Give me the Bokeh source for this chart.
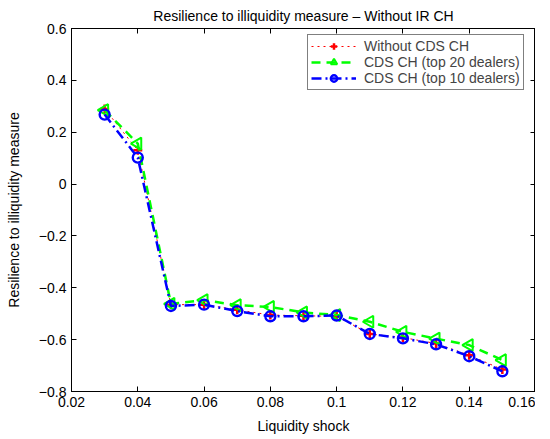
from bokeh.plotting import figure
from bokeh.models import LinearAxis, Legend, LegendItem, FixedTicker, Range1d, Title
from bokeh.embed import file_html
from bokeh.resources import INLINE

x = [0.03, 0.04, 0.05, 0.06, 0.07, 0.08, 0.09, 0.10, 0.11, 0.12, 0.13, 0.14, 0.15]
without_cds = [0.29, 0.13, -0.465, -0.465, -0.485, -0.505, -0.508, -0.51, -0.578, -0.592, -0.615, -0.66, -0.715]
top20 = [0.285, 0.156, -0.462, -0.448, -0.467, -0.474, -0.495, -0.505, -0.531, -0.57, -0.596, -0.621, -0.679]
top10 = [0.268, 0.102, -0.47, -0.465, -0.49, -0.51, -0.51, -0.507, -0.578, -0.595, -0.618, -0.664, -0.722]

xticks = [0.02, 0.04, 0.06, 0.08, 0.1, 0.12, 0.14, 0.16]
yticks = [-0.8, -0.6, -0.4, -0.2, 0, 0.2, 0.4, 0.6]
xlabels = {0.02: "0.02", 0.04: "0.04", 0.06: "0.06", 0.08: "0.08", 0.1: "0.1", 0.12: "0.12", 0.14: "0.14", 0.16: "0.16"}
ylabels = {-0.8: "\u22120.8", -0.6: "\u22120.6", -0.4: "\u22120.4", -0.2: "\u22120.2", 0: "0", 0.2: "0.2", 0.4: "0.4", 0.6: "0.6"}

FONT = "Liberation Sans"
FS = "14px"

p = figure(frame_width=464, frame_height=363, output_backend="svg", toolbar_location=None,
           x_range=Range1d(0.02, 0.16), y_range=Range1d(-0.8, 0.6),
           min_border_left=71, min_border_right=0, min_border_top=0, min_border_bottom=0,
           background_fill_color="white", border_fill_color="white")
p.title = Title(text="Resilience to illiquidity measure \u2013 Without IR CH", align="center",
                text_font=FONT, text_font_size=FS, text_font_style="normal", text_color="black")
p.xgrid.visible = False
p.ygrid.visible = False
p.outline_line_color = "black"
p.outline_line_width = 1

def style_axis(ax, labels=True):
    ax.major_tick_in = 5
    ax.major_tick_out = 0
    ax.minor_tick_in = 0
    ax.minor_tick_out = 0
    ax.axis_line_color = "black"
    ax.major_tick_line_color = "black"
    ax.major_label_text_font = FONT
    ax.major_label_text_font_size = FS
    ax.major_label_text_color = "black"
    ax.major_label_standoff = 5
    ax.axis_label_text_font = FONT
    ax.axis_label_text_font_size = FS
    ax.axis_label_text_font_style = "normal"
    ax.axis_label_text_color = "black"
    if not labels:
        ax.major_label_text_font_size = "0px"
        ax.major_label_text_alpha = 0
        ax.major_label_standoff = 0

xa = p.xaxis[0]
ya = p.yaxis[0]
xa.ticker = FixedTicker(ticks=xticks)
ya.ticker = FixedTicker(ticks=yticks)
xa.major_label_overrides = xlabels
ya.major_label_overrides = ylabels
xa.axis_label = "Liquidity shock"
ya.axis_label = "Resilience to illiquidity measure"
style_axis(xa)
style_axis(ya)
xa.axis_label_standoff = 8
ya.axis_label_standoff = 14

ra = LinearAxis(ticker=FixedTicker(ticks=yticks))
ta = LinearAxis(ticker=FixedTicker(ticks=xticks))
style_axis(ra, labels=False)
style_axis(ta, labels=False)
p.add_layout(ra, "right")
p.add_layout(ta, "above")

r1l = p.line(x, without_cds, line_color="red", line_width=1, line_dash="dotted")
r1m = p.scatter(x, without_cds, marker="cross", size=9, line_color="red", line_width=2.5)
r2l = p.line(x, top20, line_color="#00ff00", line_width=2.5, line_dash="9 6")
r2m = p.scatter(x, top20, marker="triangle", angle=1.5708, size=12, line_color="#00ff00",
                fill_color=None, line_width=2)
r3l = p.line(x, top10, line_color="blue", line_width=2.5, line_dash="10 4 2 4")
r3m = p.scatter(x, top10, marker="circle", size=10, line_color="blue", fill_color=None, line_width=2.4)

legend = Legend(items=[
    LegendItem(label="Without CDS CH", renderers=[r1l, r1m]),
    LegendItem(label="CDS CH (top 20 dealers)", renderers=[r2l, r2m]),
    LegendItem(label="CDS CH (top 10 dealers)", renderers=[r3l, r3m]),
], location=(236, 301))
legend.label_text_font = FONT
legend.label_text_font_size = FS
legend.border_line_color = "black"
legend.border_line_width = 1
legend.spacing = 0
legend.padding = 3
legend.margin = 0
legend.glyph_width = 45
legend.glyph_height = 16
legend.label_height = 16
legend.label_standoff = 8
legend.background_fill_alpha = 1
p.add_layout(legend)

open("out.html", "w").write(file_html(p, INLINE))
